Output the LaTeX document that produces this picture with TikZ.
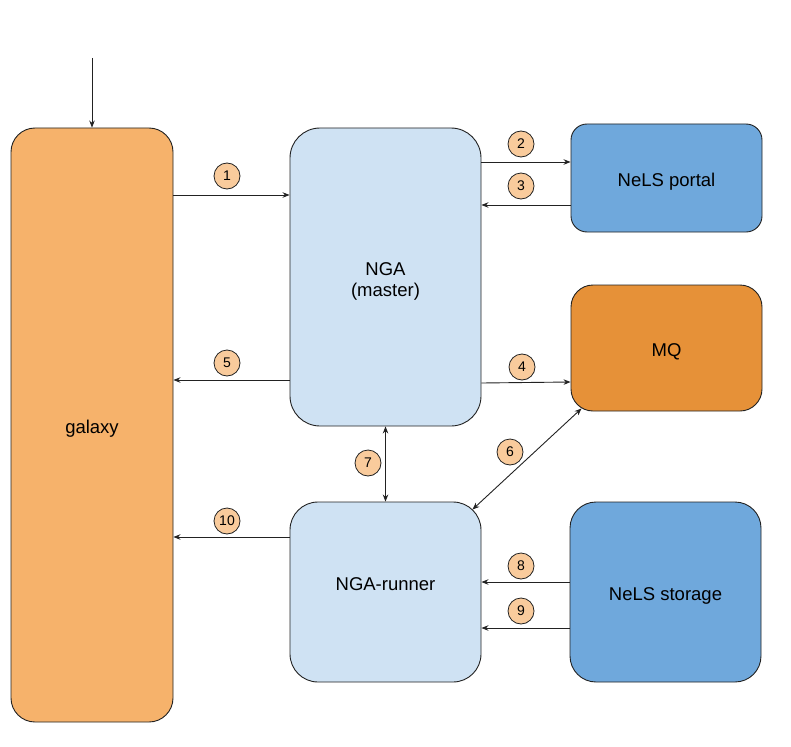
\documentclass[tikz,border=0pt]{standalone}
\usepackage{fontspec}
\setmainfont{Liberation Sans}
\usetikzlibrary{arrows.meta,calc}
\definecolor{galaxyc}{HTML}{F6B26B}
\definecolor{lightb}{HTML}{CFE2F3}
\definecolor{darkb}{HTML}{6FA8DC}
\definecolor{mqc}{HTML}{E69138}
\definecolor{numc}{HTML}{F9CB9C}
\definecolor{edgec}{HTML}{222222}
\tikzset{
  boxs/.style={draw=edgec,line width=0.9pt,minimum width=191pt,inner sep=0pt},
  boxtext/.style={font=\fontsize{18.5pt}{21pt}\selectfont,align=center,inner sep=0pt,yshift=-4pt},
  numc/.style={circle,draw=edgec,line width=0.8pt,fill=numc,minimum size=26pt,inner sep=0pt,font=\fontsize{14pt}{16pt}\selectfont},
  arr/.style={draw=edgec,line width=0.9pt,-{Stealth[length=7pt,width=5.5pt]}},
  darr/.style={draw=edgec,line width=0.9pt,{Stealth[length=7pt,width=5.5pt]}-{Stealth[length=7pt,width=5.5pt]}}
}
\begin{document}
\begin{tikzpicture}[x=1pt,y=-1pt]
\useasboundingbox (0,0) rectangle (791,746);
\node[boxs,fill=galaxyc,minimum width=162pt,minimum height=594pt,rounded corners=24pt,label={[boxtext]center:galaxy}] (galaxy) at (92,425) {};
\node[boxs,fill=lightb,minimum height=298pt,rounded corners=30pt,label={[boxtext]center:NGA\\(master)}] (nga) at (385.5,277) {};
\node[boxs,fill=darkb,minimum height=108pt,rounded corners=16pt,label={[boxtext]center:NeLS portal}] (portal) at (666.5,178) {};
\node[boxs,fill=mqc,minimum height=126pt,rounded corners=22pt,label={[boxtext]center:MQ}] (mq) at (666.5,348) {};
\node[boxs,fill=lightb,minimum height=180pt,rounded corners=28pt,label={[boxtext,yshift=12pt]center:NGA-runner}] (runner) at (385.5,592) {};
\node[boxs,fill=darkb,minimum height=180pt,rounded corners=26pt,label={[boxtext]center:NeLS storage}] (storage) at (665.5,592) {};
\coordinate (top) at (92,58);
\draw[arr] (top) -- (galaxy.north);
\draw[arr] (galaxy.east |- 0,195) -- (nga.west |- 0,195);
\draw[arr] (nga.east |- 0,162) -- (portal.west |- 0,162);
\draw[arr] (portal.west |- 0,205) -- (nga.east |- 0,205);
\draw[arr] (nga.west |- 0,380) -- (galaxy.east |- 0,380);
\draw[arr] (nga.east |- 0,383) -- (mq.west |- 0,382);
\draw[darr] (nga.south) -- (runner.north);
\draw[darr] ($(mq.south west)+(11,-3)$) -- ($(runner.north east)+(-9,8)$);
\draw[arr] (runner.west |- 0,537) -- (galaxy.east |- 0,537);
\draw[arr] (storage.west |- 0,582) -- (runner.east |- 0,582);
\draw[arr] (storage.west |- 0,628) -- (runner.east |- 0,628);
\node[numc] (n1) at (227,176) {1};
\node[numc] (n2) at (521,144) {2};
\node[numc] (n3) at (521,186) {3};
\node[numc] (n4) at (522,367) {4};
\node[numc] (n5) at (227,363) {5};
\node[numc] (n6) at (510,452) {6};
\node[numc] (n7) at (368,463) {7};
\node[numc] (n8) at (521,566) {8};
\node[numc] (n9) at (521,611) {9};
\node[numc] (n10) at (227,521) {10};
\end{tikzpicture}
\end{document}
